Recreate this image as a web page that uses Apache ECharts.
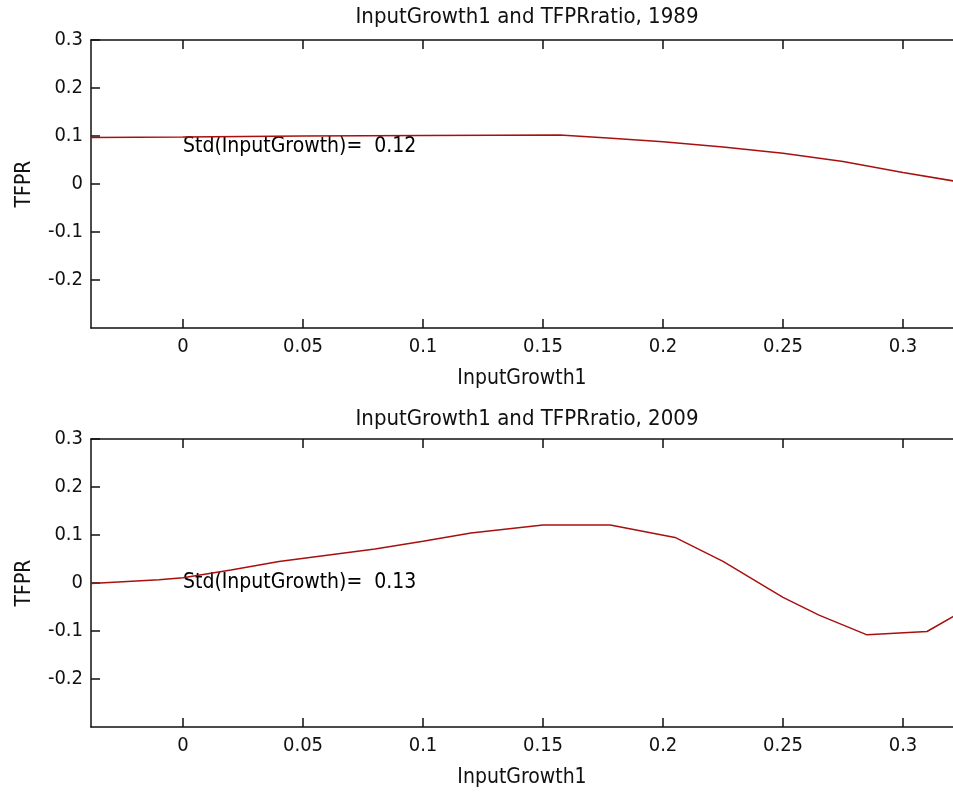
<!DOCTYPE html>
<html>
<head>
<meta charset="utf-8">
<script src="https://cdn.jsdelivr.net/npm/echarts@6/dist/echarts.min.js"></script>
<style>
  html, body { margin: 0; padding: 0; background: #fff; }
  #main { width: 953px; height: 794px; }
</style>
</head>
<body>
<div id="main"></div>
<script>
// data
var titles = ['InputGrowth1 and TFPRratio, 1989', 'InputGrowth1 and TFPRratio, 2009'];
var xTicks = [0, 0.05, 0.1, 0.15, 0.2, 0.25, 0.3];
var yTicks = [-0.2, -0.1, 0, 0.1, 0.2, 0.3];

var x1989 = [-0.0383, 0.0, 0.05, 0.1, 0.157, 0.177, 0.2, 0.225, 0.25, 0.275, 0.3, 0.325];
var y1989 = [0.097, 0.098, 0.100, 0.101, 0.102, 0.096, 0.088, 0.077, 0.064, 0.047, 0.024, 0.003];

var x2009 = [-0.0383, -0.01, 0.0, 0.02, 0.04, 0.06, 0.08, 0.1, 0.12, 0.15, 0.178, 0.205, 0.225, 0.25, 0.265, 0.285, 0.31, 0.325];
var y2009 = [-0.001, 0.007, 0.011, 0.027, 0.045, 0.058, 0.071, 0.087, 0.104, 0.121, 0.121, 0.095, 0.045, -0.030, -0.067, -0.108, -0.101, -0.058];

var stdValues = [0.12, 0.13];
var stdAt = [[0, 0.077], [0, 0.0]];

var FONT = '"DejaVu Sans Condensed", "Liberation Sans Narrow", sans-serif';
var INK = '#111';
var fmt = function (v) { return String(+Number(v).toFixed(2)); };

function zip(xs, ys) {
    return xs.map(function (x, i) { return [x, ys[i]]; });
}

var grids = [
    { left: 91, right: 0, top: 40, height: 288 },
    { left: 91, right: 0, top: 439, height: 288 }
];

var xAxes = [], yAxes = [];
[0, 1].forEach(function (g) {
    xAxes.push({
        type: 'value', gridIndex: g, position: 'bottom',
        min: -0.03833, max: 0.32083,
        name: 'InputGrowth1', nameLocation: 'middle', nameGap: 40,
        nameTextStyle: { color: INK, fontFamily: FONT, fontSize: 21 },
        axisLine: { show: true, onZero: false, lineStyle: { color: INK, width: 1.5 } },
        axisTick: { show: true, inside: true, length: 9, customValues: xTicks, lineStyle: { color: INK, width: 1.5 } },
        axisLabel: { show: true, margin: 9, customValues: xTicks, formatter: fmt, color: INK, fontFamily: FONT, fontSize: 20 },
        splitLine: { show: false }
    });
    xAxes.push({
        type: 'value', gridIndex: g, position: 'top',
        min: -0.03833, max: 0.32083,
        axisLine: { show: true, onZero: false, lineStyle: { color: INK, width: 1.5 } },
        axisTick: { show: true, inside: true, length: 9, customValues: xTicks, lineStyle: { color: INK, width: 1.5 } },
        axisLabel: { show: false },
        splitLine: { show: false }
    });
    yAxes.push({
        type: 'value', gridIndex: g, position: 'left',
        min: -0.3, max: 0.3,
        name: 'TFPR', nameLocation: 'middle', nameGap: 56,
        nameTextStyle: { color: INK, fontFamily: FONT, fontSize: 21 },
        axisLine: { show: true, onZero: false, lineStyle: { color: INK, width: 1.5 } },
        axisTick: { show: true, inside: true, length: 9, customValues: yTicks, lineStyle: { color: INK, width: 1.5 } },
        axisLabel: { show: true, margin: 8, customValues: yTicks, formatter: fmt, color: INK, fontFamily: FONT, fontSize: 20 },
        splitLine: { show: false }
    });
});

var seriesData = [zip(x1989, y1989), zip(x2009, y2009)];
var series = [];
[0, 1].forEach(function (g) {
    series.push({
        type: 'line', xAxisIndex: g * 2, yAxisIndex: g,
        data: seriesData[g], showSymbol: false, clip: true,
        lineStyle: { color: '#a81010', width: 1.5 },
        silent: true
    });
    series.push({
        type: 'scatter', xAxisIndex: g * 2, yAxisIndex: g,
        data: [stdAt[g]], symbolSize: 0, silent: true,
        itemStyle: { opacity: 1 },
        label: {
            show: true, position: 'right', distance: 0,
            formatter: 'Std(InputGrowth)=  ' + stdValues[g].toFixed(2),
            color: '#000', opacity: 1, fontFamily: FONT, fontSize: 21
        }
    });
});

var myChart = echarts.init(document.getElementById('main'));
myChart.setOption({
    backgroundColor: '#fff',
    animation: false,
    title: [
        { text: titles[0], left: 522, top: 1, textAlign: 'center', textStyle: { color: INK, fontFamily: FONT, fontSize: 22, fontWeight: 'normal' } },
        { text: titles[1], left: 522, top: 403, textAlign: 'center', textStyle: { color: INK, fontFamily: FONT, fontSize: 22, fontWeight: 'normal' } }
    ],
    grid: grids,
    xAxis: xAxes,
    yAxis: yAxes,
    series: series
});
</script>
</body>
</html>
